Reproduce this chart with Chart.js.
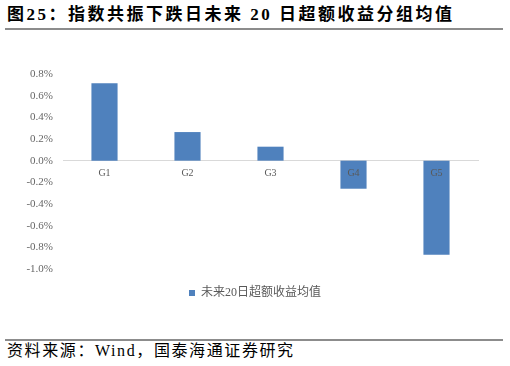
<!DOCTYPE html>
<html>
<head>
<meta charset="utf-8">
<script src="https://cdn.jsdelivr.net/npm/chart.js@4/dist/chart.umd.min.js"></script>
<style>
  html, body { margin: 0; padding: 0; background: #fff; }
  body { width: 510px; height: 366px; position: relative; overflow: hidden; }
  #title { position: absolute; left: 7px; top: 5px; font-family: "Liberation Serif", "Noto Sans CJK SC", serif; font-weight: bold; font-size: 17px; letter-spacing: 2.5px; color: #000; white-space: nowrap; line-height: 20px; }
  #line1 { position: absolute; left: 5px; top: 28px; width: 498px; height: 2px; background: #8c8c8c; }
  #wrap { position: absolute; left: 0; top: 40px; width: 510px; height: 295px; }
  #line2 { position: absolute; left: 5px; top: 339px; width: 498px; height: 2px; background: #8c8c8c; }
  #source { position: absolute; left: 7px; top: 341px; font-family: "Liberation Serif", "Noto Sans CJK SC", serif; font-size: 16px; letter-spacing: 1.6px; color: #000; white-space: nowrap; line-height: 20px; }
</style>
</head>
<body>
<div id="title">图25：指数共振下跌日未来 20 日超额收益分组均值</div>
<div id="line1"></div>
<div id="wrap"><canvas id="c" width="510" height="295"></canvas></div>
<div id="line2"></div>
<div id="source">资料来源：Wind，国泰海通证券研究</div>
<script>
const categories = ["G1", "G2", "G3", "G4", "G5"];
const seriesName = "未来20日超额收益均值";
const seriesValues = [0.714, 0.264, 0.129, -0.259, -0.869]; // percent
const yMin = -1.0;
const yMax = 0.8;
const yStep = 0.2;

const labelFont = "'Liberation Serif', 'Noto Sans CJK SC', serif";

new Chart(document.getElementById('c'), {
  type: 'bar',
  data: {
    labels: categories,
    datasets: [{
      label: seriesName,
      data: seriesValues,
      backgroundColor: '#4F81BD',
      borderWidth: 0,
      categoryPercentage: 1.0,
      barPercentage: 0.315
    }]
  },
  options: {
    responsive: false,
    animation: false,
    devicePixelRatio: 1,
    layout: { padding: { top: 34, right: 0, left: 0, bottom: 26 } },
    plugins: {
      tooltip: { enabled: false },
      legend: {
        position: 'bottom',
        labels: {
          boxWidth: 6,
          boxHeight: 6,
          padding: 18,
          color: '#595959',
          font: { family: labelFont, size: 12 }
        }
      }
    },
    scales: {
      x: {
        position: { y: 0 },
        grid: { display: false, drawTicks: false },
        border: { display: true, color: '#d9d9d9', width: 1 },
        ticks: { z: 1, color: '#595959', padding: 7, font: { family: labelFont, size: 10 } }
      },
      y: {
        min: yMin,
        max: yMax,
        grid: { display: false, drawTicks: false },
        border: { display: false },
        afterFit: (s) => { s.width = 63; },
        ticks: {
          stepSize: yStep,
          padding: 10,
          color: '#666666',
          font: { family: labelFont, size: 11 },
          callback: (v) => (Math.abs(v) < 1e-9 ? 0 : v).toFixed(1) + '%'
        }
      },
      yRight: {
        type: 'linear',
        position: 'right',
        min: yMin,
        max: yMax,
        grid: { display: false, drawTicks: false },
        border: { display: false },
        ticks: { display: false },
        afterFit: (s) => { s.width = 32; }
      }
    }
  }
});
</script>
</body>
</html>
